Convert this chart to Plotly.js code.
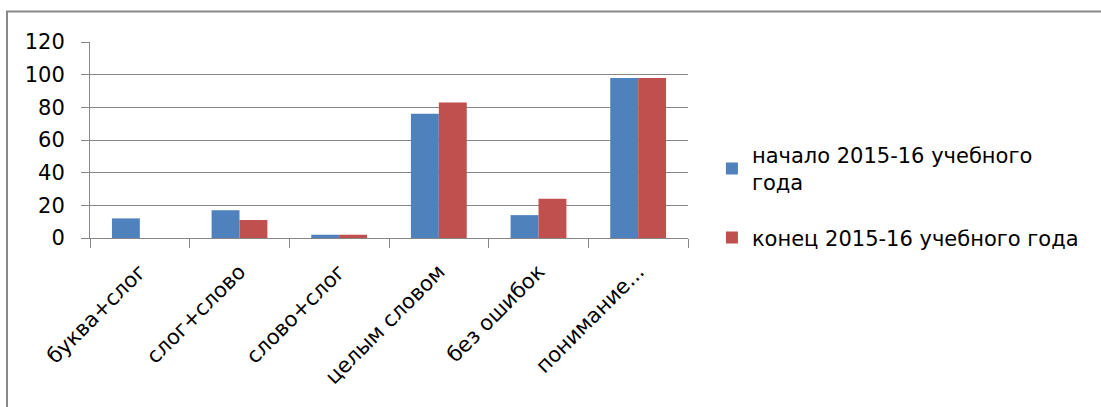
<!DOCTYPE html>
<html>
<head>
<meta charset="utf-8">
<script src="https://cdn.plot.ly/plotly-3.0.1.min.js"></script>
<style>html,body{margin:0;padding:0;background:#fff;}#chart{width:1101px;height:407px;}</style>
</head>
<body>
<div id="chart"></div>
<script>
const categories = ["буква+слог", "слог+слово", "слово+слог", "целым словом", "без ошибок", "понимание..."];
const startValues = [12, 17, 2, 76, 14, 98];
const endValues = [0, 11, 2, 83, 24, 98];
const seriesNames = ["начало 2015-16 учебного<br>года", "конец 2015-16 учебного года"];
const yTicks = [0, 20, 40, 60, 80, 100, 120];

const FONT = "DejaVu Sans, sans-serif";
const traces = [
  {type: "bar", x: categories, y: startValues, name: seriesNames[0], legendgroup: "a", marker: {color: "#4F81BD"}},
  {type: "bar", x: categories, y: endValues, name: seriesNames[1], legendgroup: "b", marker: {color: "#C0504D"}}
];
const layout = {
  width: 1101, height: 407,
  margin: {l: 90, r: 413, t: 42, b: 169},
  paper_bgcolor: "#fff", plot_bgcolor: "#fff",
  font: {family: FONT, size: 18, color: "#000"},
  barmode: "group", bargap: 0.44, bargroupgap: 0,
  showlegend: true,
  legend: {x: 1.04, y: 0.213, xanchor: "left", yanchor: "middle", traceorder: "grouped", font: {family: FONT, size: 21, color: "#000"}, tracegroupgap: 25, itemwidth: 30},
  xaxis: {
    type: "category", tickangle: -45, tickson: "boundaries", ticks: "outside", ticklen: 9, tickcolor: "#868686",
    showline: true, linecolor: "#868686", linewidth: 1, showgrid: false, zeroline: false,
    tickfont: {family: FONT, size: 21, color: "#000"}, ticklabelstandoff: 12
  },
  yaxis: {
    range: [0, 120], tickvals: yTicks, ticktext: yTicks.map(String), ticks: "outside", ticklen: 8, tickcolor: "#868686",
    showline: true, linecolor: "#868686", linewidth: 1, showgrid: true, gridcolor: "#868686", gridwidth: 1, zeroline: false,
    tickfont: {family: FONT, size: 21, color: "#000"}, ticklabelstandoff: 12
  },
  shapes: [{type: "rect", xref: "paper", yref: "paper", x0: -0.1388, x1: 1.72, y0: -0.95, y1: 1.156, line: {color: "#888", width: 2}, fillcolor: "rgba(0,0,0,0)", layer: "below"}]
};
Plotly.newPlot("chart", traces, layout, {displayModeBar: false, staticPlot: true});
</script>
</body>
</html>
